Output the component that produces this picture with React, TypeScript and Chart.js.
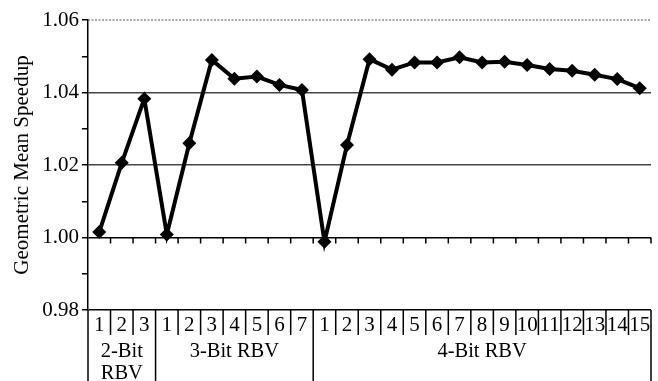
import React, { useEffect, useRef } from "react";
import { Chart, registerables } from "chart.js";

Chart.register(...registerables);

// ---- data ----
const labels2Bit = ["1", "2", "3"];
const labels3Bit = ["1", "2", "3", "4", "5", "6", "7"];
const labels4Bit = ["1", "2", "3", "4", "5", "6", "7", "8", "9", "10", "11", "12", "13", "14", "15"];

const groupNames = [["2-Bit", "RBV"], ["3-Bit RBV"], ["4-Bit RBV"]];

const speedup2Bit = [1.0015, 1.0206, 1.0383];
const speedup3Bit = [1.0008, 1.026, 1.049, 1.0438, 1.0444, 1.0421, 1.0407];
const speedup4Bit = [0.9988, 1.0255, 1.0492, 1.0463, 1.0483, 1.0483, 1.0497, 1.0483, 1.0485, 1.0476, 1.0465, 1.046, 1.0449, 1.0437, 1.0412];

const yMin = 0.98;
const yMax = 1.06;
const yTitle = "Geometric Mean Speedup";

const FONT = "Liberation Serif";

const groups = [labels2Bit, labels3Bit, labels4Bit];
const allLabels = [...labels2Bit, ...labels3Bit, ...labels4Bit];
const allValues = [...speedup2Bit, ...speedup3Bit, ...speedup4Bit];

const tablePlugin = {
  id: "rbvTable",
  beforeDatasetsDraw(chart: any) {
    const { ctx, chartArea, scales } = chart;
    const x = scales.x;
    const y = scales.y;
    const yTop = y.getPixelForValue(yMax);
    ctx.save();
    ctx.strokeStyle = "#555";
    ctx.lineWidth = 1.2;
    ctx.setLineDash([2, 1.5]);
    ctx.beginPath();
    ctx.moveTo(chartArea.left, yTop);
    ctx.lineTo(chartArea.right, yTop);
    ctx.stroke();
    ctx.setLineDash([]);

    // small ticks on the 1.00 line
    const n = allLabels.length;
    const half = (x.getPixelForValue(1) - x.getPixelForValue(0)) / 2;
    const y1 = y.getPixelForValue(1.0);
    ctx.strokeStyle = "#000";
    ctx.lineWidth = 1.5;
    ctx.beginPath();
    for (let k = 1; k <= n; k++) {
      const px = k < n ? x.getPixelForValue(k) - half : x.getPixelForValue(n - 1) + half;
      ctx.moveTo(px, y1);
      ctx.lineTo(px, y1 + 6);
    }
    ctx.stroke();
    ctx.restore();
  },
  afterDraw(chart: any) {
    const { ctx, chartArea, scales, height } = chart;
    const x = scales.x;
    const n = allLabels.length;
    const half = (x.getPixelForValue(1) - x.getPixelForValue(0)) / 2;
    const bx = (k: number) => (k < n ? x.getPixelForValue(k) - half : x.getPixelForValue(n - 1) + half);
    const y0 = chartArea.bottom;

    const groupStarts: number[] = [];
    let acc = 0;
    groups.forEach((g) => {
      groupStarts.push(acc);
      acc += g.length;
    });
    groupStarts.push(acc);

    ctx.save();
    ctx.strokeStyle = "#000";
    ctx.lineWidth = 1.5;
    ctx.beginPath();
    for (let k = 0; k <= n; k++) {
      const px = bx(k);
      const isGroup = groupStarts.includes(k);
      ctx.moveTo(px, y0);
      ctx.lineTo(px, isGroup ? height : y0 + 25);
    }
    ctx.stroke();

    ctx.fillStyle = "#000";
    ctx.font = `21px "${FONT}"`;
    ctx.textAlign = "center";
    ctx.textBaseline = "middle";
    for (let i = 0; i < n; i++) {
      ctx.fillText(allLabels[i], x.getPixelForValue(i), y0 + 15);
    }
    ctx.font = `20.5px "${FONT}"`;
    groupNames.forEach((lines, gi) => {
      const cx = (bx(groupStarts[gi]) + bx(groupStarts[gi + 1])) / 2;
      lines.forEach((t, li) => {
        ctx.fillText(t, cx, y0 + 42 + li * 22);
      });
    });
    ctx.restore();
  },
};

export default function App() {
  const ref = useRef<HTMLCanvasElement | null>(null);
  useEffect(() => {
    if (!ref.current) return;
    const chart = new Chart(ref.current, {
      type: "line",
      data: {
        labels: allLabels.map((l, i) => `${i}`),
        datasets: [
          {
            data: allValues,
            borderColor: "#000",
            backgroundColor: "#000",
            borderWidth: 4,
            pointStyle: "rectRot",
            pointRadius: 7,
            pointBackgroundColor: "#000",
            pointBorderColor: "#000",
            pointBorderWidth: 0,
            tension: 0,
          },
        ],
      },
      plugins: [tablePlugin],
      options: {
        animation: false,
        responsive: false,
        events: [],
        layout: { padding: { top: 20, right: 7, bottom: 71, left: 0 } },
        plugins: { legend: { display: false }, tooltip: { enabled: false } },
        scales: {
          x: {
            type: "category",
            offset: true,
            display: false,
          },
          y: {
            min: yMin,
            max: yMax,
            afterFit: (s: any) => {
              s.width = 88;
            },
            title: {
              display: true,
              text: yTitle,
              color: "#000",
              font: { family: FONT, size: 21 },
              padding: { top: 10, bottom: 0 },
            },
            ticks: {
              stepSize: 0.01,
              color: "#000",
              font: { family: FONT, size: 21 },
              padding: 3,
              autoSkip: false,
              callback: (v: any) => {
                const r = Math.round(Number(v) * 100);
                return r % 2 === 0 ? (r / 100).toFixed(2) : "";
              },
            },
            border: { display: true, color: "#000", width: 1.5 },
            grid: {
              drawTicks: true,
              tickLength: 6,
              tickColor: "#000",
              lineWidth: 1.5,
              color: (c: any) => {
                const r = Math.round(c.tick.value * 100);
                if (r % 2 !== 0) return "rgba(0,0,0,0)";
                if (r === 106) return "rgba(0,0,0,0)";
                if (r === 98 || r === 100) return "#000";
                return "#444";
              },
            },
          },
        },
      },
    } as any);
    return () => chart.destroy();
  }, []);
  return (
    <div style={{ position: "fixed", left: 0, top: 0, width: 658, height: 381, background: "#fff" }}>
      <canvas ref={ref} width={658} height={381} style={{ display: "block" }} />
    </div>
  );
}
